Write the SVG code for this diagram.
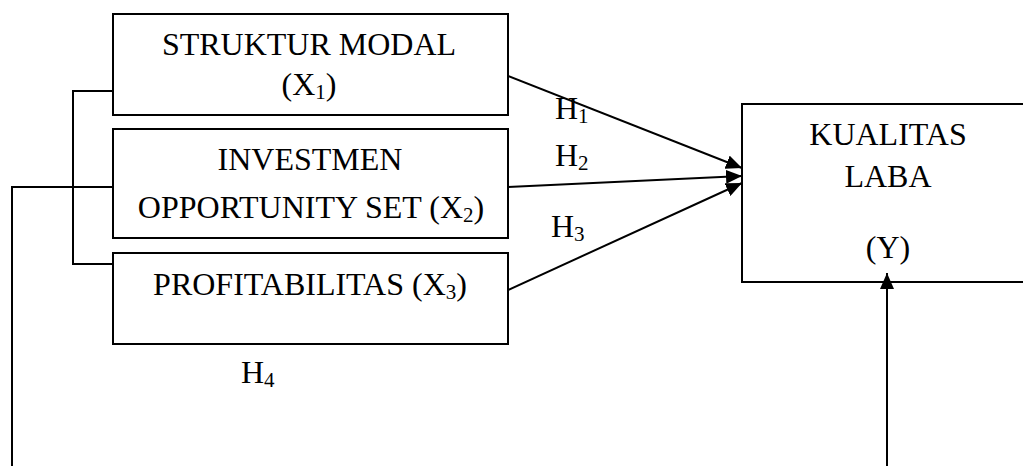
<svg xmlns="http://www.w3.org/2000/svg" width="1023" height="466" viewBox="0 0 1023 466">
<style>
.box{fill:#fff;stroke:#000;stroke-width:2}
.t{font-family:"Liberation Serif","Times New Roman",serif;font-size:32px;fill:#000}
.c{text-anchor:middle}
.s{font-size:21px}
.ln{fill:none;stroke:#000;stroke-width:2}
</style>
<defs>
<marker id="ah" markerWidth="16" markerHeight="14" refX="16" refY="7" orient="auto" markerUnits="userSpaceOnUse">
<path d="M0,0 L16,7 L0,14 Z" fill="#000"/>
</marker>
</defs>
<g id="x1">
<rect class="box" x="113" y="14" width="395" height="101"/>
<text class="t c" x="309" y="55">STRUKTUR MODAL</text>
<text class="t c" x="309" y="95">(X<tspan class="s" dy="4">1</tspan><tspan dy="-4">)</tspan></text>
</g>
<g id="x2">
<rect class="box" x="113" y="129" width="395" height="109"/>
<text class="t c" x="310" y="170">INVESTMEN</text>
<text class="t c" x="311" y="218">OPPORTUNITY SET (X<tspan class="s" dy="4">2</tspan><tspan dy="-4">)</tspan></text>
</g>
<g id="x3">
<rect class="box" x="113" y="253" width="395" height="91"/>
<text class="t c" x="310" y="295">PROFITABILITAS (X<tspan class="s" dy="4">3</tspan><tspan dy="-4">)</tspan></text>
</g>
<g id="y">
<rect class="box" x="742" y="104" width="300" height="178"/>
<text class="t c" x="888" y="145">KUALITAS</text>
<text class="t c" x="888" y="187">LABA</text>
<text class="t c" x="888" y="258">(Y)</text>
</g>
<g id="connectors">
<path class="ln" d="M113,91 H73 V264 H113"/>
<path class="ln" d="M113,187 H12 V466"/>
<line class="ln" x1="508" y1="76" x2="742" y2="168" marker-end="url(#ah)"/>
<line class="ln" x1="508" y1="187" x2="742" y2="176" marker-end="url(#ah)"/>
<line class="ln" x1="508" y1="290" x2="742" y2="183" marker-end="url(#ah)"/>
<line class="ln" x1="887" y1="466" x2="887" y2="273" marker-end="url(#ah)"/>
</g>
<g id="labels">
<text class="t" x="555" y="119">H<tspan class="s" dy="4">1</tspan></text>
<text class="t" x="555" y="166">H<tspan class="s" dy="4">2</tspan></text>
<text class="t" x="551" y="237">H<tspan class="s" dy="4">3</tspan></text>
<text class="t" x="241" y="383">H<tspan class="s" dy="4">4</tspan></text>
</g>
</svg>
